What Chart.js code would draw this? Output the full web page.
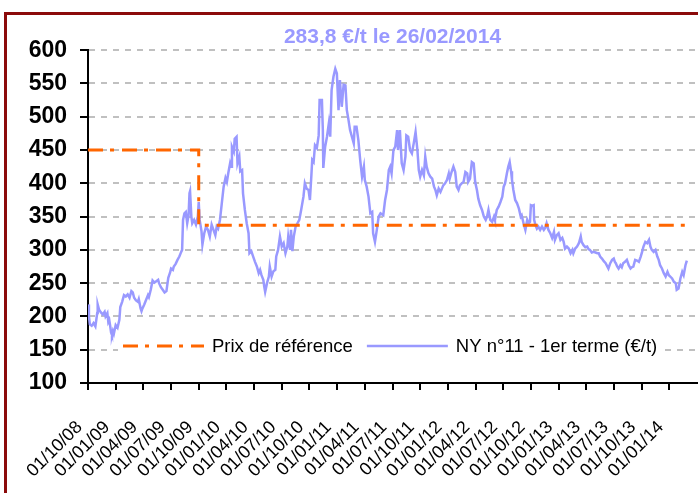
<!DOCTYPE html>
<html>
<head>
<meta charset="utf-8">
<script src="https://cdn.jsdelivr.net/npm/chart.js@4.4.1/dist/chart.umd.min.js"></script>
<style>
  body { margin: 0; background: #fff; overflow: hidden; }
  #frame { position: absolute; left: 4px; top: 12px; width: 800px; height: 600px; border: 3px solid #8b0a0a; }
  #chart { position: absolute; left: 0; top: 0; }
</style>
</head>
<body>
<div id="frame"></div>
<canvas id="chart" width="698" height="493"></canvas>
<script>
// months counted from 01/10/08
const xTickMonths = [0, 3, 6, 9, 12, 15, 18, 21, 24, 27, 30, 33, 36, 39, 42, 45, 48, 51, 54, 57, 60, 63];
const xTickLabels = ['01/10/08', '01/01/09', '01/04/09', '01/07/09', '01/10/09', '01/01/10', '01/04/10',
  '01/07/10', '01/10/10', '01/01/11', '01/04/11', '01/07/11', '01/10/11', '01/01/12', '01/04/12',
  '01/07/12', '01/10/12', '01/01/13', '01/04/13', '01/07/13', '01/10/13', '01/01/14'];

const titleText = '283,8 €/t le 26/02/2014';

// prix de référence (€/t)
const refMonths = [0, 12, 12, 64.9];
const refValues = [450, 450, 337, 337];

// NY n°11 1er terme, [mois, €/t]
const nyPrice = [
  [0,218],[0.1,200],[0.2,188],[0.4,186],[0.6,190],[0.8,185],[1.0,205],[1.05,218],[1.2,210],[1.4,206],
  [1.6,203],[1.8,207],[1.9,200],[2.1,205],[2.2,192],[2.3,195],[2.4,186],[2.5,176],[2.6,172],[2.7,178],
  [2.8,174],[3.0,187],[3.2,183],[3.4,195],[3.5,214],[3.7,222],[3.9,232],[4.1,230],[4.3,233],[4.5,228],
  [4.7,238],[4.85,236],[5.0,228],[5.2,224],[5.4,222],[5.5,226],[5.7,212],[5.8,208],[5.9,212],[6.1,218],
  [6.3,225],[6.5,232],[6.6,229],[6.8,240],[7.0,254],[7.2,251],[7.4,253],[7.6,255],[7.7,250],[7.9,244],
  [8.1,240],[8.3,236],[8.5,238],[8.7,258],[8.9,266],[9.0,272],[9.2,270],[9.3,275],[9.5,279],[9.7,285],
  [9.9,290],[10.1,297],[10.2,300],[10.3,345],[10.45,355],[10.6,357],[10.75,340],[10.9,352],[11.0,385],[11.06,388],
  [11.2,350],[11.3,340],
  [11.5,345],[11.7,338],[11.9,350],[12.0,372],[12.1,345],[12.3,328],[12.4,308],[12.6,325],[12.8,335],[13.0,330],
  [13.2,320],[13.4,338],[13.6,330],[13.8,322],[13.95,335],[14.1,332],[14.3,345],[14.5,370],[14.7,395],[14.9,408],
  [15.05,402],[15.2,415],[15.4,430],[15.5,425],[15.6,455],[15.8,448],[15.9,467],[16.1,470],[16.2,430],[16.4,440],
  [16.5,418],[16.7,420],[16.8,385],[17.0,360],[17.2,340],[17.4,325],[17.5,295],[17.7,298],[17.9,290],[18.1,282],
  [18.3,275],[18.5,265],[18.65,270],[18.8,262],[19.0,255],[19.1,245],[19.2,237],[19.4,250],[19.6,260],[19.7,275],
  [19.9,260],[20.1,268],[20.3,270],[20.4,290],[20.6,300],[20.8,320],[21.0,305],[21.2,310],[21.4,295],[21.6,305],
  [21.7,320],[21.9,300],[22.0,330],[22.15,298],[22.3,320],[22.5,335],[22.7,340],[22.9,345],
  [23.1,360],[23.35,380],[23.5,400],[23.7,392],[23.9,390],[24.05,375],[24.2,410],[24.3,435],[24.45,432],[24.6,457],
  [24.8,453],[25.0,472],[25.1,525],[25.35,525],[25.45,480],[25.5,423],[25.7,455],[25.9,470],[26.1,490],[26.25,470],
  [26.4,540],[26.6,560],[26.8,572],[26.97,565],[27.15,510],[27.3,555],[27.5,515],[27.7,548],[27.9,547],[28.05,510],
  [28.2,498],[28.4,480],[28.6,470],[28.8,460],[28.9,485],[29.1,485],[29.3,465],[29.5,435],[29.7,410],[29.9,425],
  [30.0,405],[30.2,395],[30.4,380],[30.6,355],[30.8,357],[30.9,325],[31.1,312],[31.3,330],[31.5,350],[31.7,355],
  [32.0,352],[32.2,375],[32.4,390],[32.6,420],[32.75,425],[32.9,415],[33.1,450],[33.3,455],[33.5,480],[33.6,450],
  [33.8,480],
  [34.0,430],[34.2,420],[34.4,440],[34.5,472],[34.7,470],[34.9,450],[35.1,445],[35.3,460],[35.5,477],[35.7,450],
  [35.85,420],[36.0,410],[36.2,420],[36.4,412],[36.55,440],[36.7,425],[36.9,415],[37.1,410],[37.3,407],[37.5,395],
  [37.65,390],[37.8,382],[38.0,392],[38.2,387],[38.35,392],[38.5,397],[38.7,400],[38.9,405],[39.1,415],[39.2,407],
  [39.4,417],[39.6,425],[39.8,417],[39.96,395],[40.15,390],[40.3,397],[40.5,400],[40.7,402],[40.9,417],[41.1,415],
  [41.2,402],[41.4,407],[41.6,432],[41.8,430],[41.96,402],[42.15,390],[42.3,377],[42.5,367],[42.7,360],[42.9,350],
  [43.1,345],[43.25,350],[43.4,360],[43.6,345],[43.8,342],[44.0,350],[44.1,345],[44.3,360],[44.5,365],[44.7,372],
  [44.9,380],[45.05,395],[45.2,400],
  [45.4,415],[45.55,425],[45.7,432],[45.85,418],[45.95,405],[46.1,390],[46.3,375],[46.5,370],[46.7,362],[46.9,350],
  [47.0,352],[47.2,340],[47.4,330],[47.6,345],[47.75,340],[47.9,342],[48.0,367],[48.15,366],[48.3,367],[48.35,345],
  [48.5,337],[48.65,332],[48.8,335],[49.0,330],[49.2,335],[49.4,330],[49.55,333],[49.7,340],[49.9,330],[50.1,325],
  [50.3,318],[50.5,327],[50.6,315],[50.8,322],[51.0,325],[51.2,315],[51.4,318],[51.55,312],[51.7,302],[51.9,305],
  [52.1,302],[52.3,295],[52.5,300],[52.6,295],[52.8,302],[53.0,305],[53.2,310],[53.4,320],[53.5,312],[53.7,307],
  [53.9,304],[54.1,305],[54.25,301],[54.4,300],[54.6,296],[54.8,297],[55.0,296],[55.2,295],
  [55.35,295],[55.5,290],[55.7,287],[55.9,283],[56.1,280],[56.25,276],[56.4,272],[56.6,280],[56.8,285],[56.98,287],
  [57.1,282],[57.2,280],[57.35,275],[57.5,272],[57.7,277],[57.85,274],[58.0,280],[58.2,282],[58.4,285],[58.6,277],
  [58.8,272],[58.95,274],[59.1,275],[59.3,285],[59.5,284],[59.7,282],[59.9,290],[60.05,297],[60.2,305],[60.4,312],
  [60.6,310],[60.8,315],[60.95,305],[61.1,300],[61.3,297],[61.5,300],[61.7,290],[61.85,285],[62.0,277],[62.2,272],
  [62.4,265],[62.6,260],[62.8,267],[62.95,262],[63.1,260],[63.3,257],[63.5,252],[63.7,250],[63.8,240],[64.0,242],
  [64.2,257],[64.4,267],[64.55,262],[64.75,277],[64.9,284]
];

const fontFamily = '"Liberation Sans", Arial, sans-serif';
Chart.defaults.font.family = fontFamily;

// legend drawn inside the plot, on a white band
const insideLegend = {
  id: 'insideLegend',
  afterDatasetsDraw(chart) {
    const {ctx, chartArea: a} = chart;
    ctx.save();
    ctx.fillStyle = '#fff';
    ctx.fillRect(a.left + 30, a.bottom - 49, 544, 28);
    ctx.font = '18.5px ' + fontFamily;
    ctx.textBaseline = 'middle';
    let x = a.left + 35;
    const y = a.bottom - 37;
    chart.data.datasets.forEach(ds => {
      ctx.beginPath();
      ctx.setLineDash(ds.borderDash || []);
      ctx.strokeStyle = ds.borderColor;
      ctx.lineWidth = ds.borderWidth;
      ctx.moveTo(x, y);
      ctx.lineTo(x + 81, y);
      ctx.stroke();
      ctx.setLineDash([]);
      ctx.fillStyle = '#000';
      ctx.fillText(ds.label, x + 89, y + 1);
      x += 89 + ctx.measureText(ds.label).width + 14;
    });
    ctx.restore();
  }
};

// slanted date labels under the x axis
const slantedDates = {
  id: 'slantedDates',
  afterDraw(chart) {
    const {ctx, scales, chartArea: a} = chart;
    ctx.save();
    ctx.font = '18px ' + fontFamily;
    ctx.fillStyle = '#000';
    ctx.textAlign = 'right';
    ctx.textBaseline = 'alphabetic';
    xTickMonths.forEach((m, i) => {
      const px = scales.x.getPixelForValue(m);
      ctx.save();
      ctx.translate(px - 5, a.bottom + 45);
      ctx.rotate(-Math.PI / 4);
      ctx.fillText(xTickLabels[i], 0, 0);
      ctx.restore();
    });
    ctx.restore();
  }
};

const refPoints = refMonths.map((m, i) => ({x: m, y: refValues[i]}));
const nyPoints = nyPrice.map(p => ({x: p[0], y: p[1]}));

new Chart(document.getElementById('chart'), {
  type: 'line',
  data: {
    datasets: [
      {
        label: 'Prix de référence',
        data: refPoints,
        borderColor: '#ff6600',
        borderWidth: 3,
        borderDash: [15, 7, 4, 8],
        pointRadius: 0,
        tension: 0
      },
      {
        label: 'NY n°11 - 1er terme (€/t)',
        data: nyPoints,
        borderColor: '#9999ff',
        borderWidth: 2.5,
        pointRadius: 0,
        tension: 0
      }
    ]
  },
  options: {
    responsive: false,
    animation: false,
    layout: { padding: { left: 0, right: 1, top: 0, bottom: 0 } },
    plugins: {
      legend: { display: false },
      tooltip: { enabled: false },
      title: {
        display: true,
        text: titleText,
        color: '#9999ff',
        fullSize: false,
        font: { size: 21, weight: 'bold' },
        padding: { top: 25, bottom: 0 }
      }
    },
    scales: {
      x: {
        type: 'linear',
        min: 0,
        max: 66,
        afterBuildTicks: s => { s.ticks = xTickMonths.map(v => ({value: v})); },
        afterFit: s => { s.height = 110; },
        grid: { drawOnChartArea: false, tickLength: 7, tickColor: '#000', lineWidth: 2 },
        border: { color: '#000', width: 2 },
        ticks: { display: false }
      },
      y: {
        min: 100,
        max: 600,
        afterFit: s => { s.width = 88; },
        ticks: { stepSize: 50, color: '#000', padding: 13, font: { size: 23, weight: 'bold' } },
        grid: {
          color: c => (c.tick && c.tick.value === 100) ? 'rgba(0,0,0,0)' : '#c0c0c0',
          lineWidth: 2,
          tickLength: 8,
          tickColor: '#000'
        },
        border: { color: '#000', width: 2, dash: [6, 6] }
      }
    }
  },
  plugins: [insideLegend, slantedDates]
});
</script>
</body>
</html>
